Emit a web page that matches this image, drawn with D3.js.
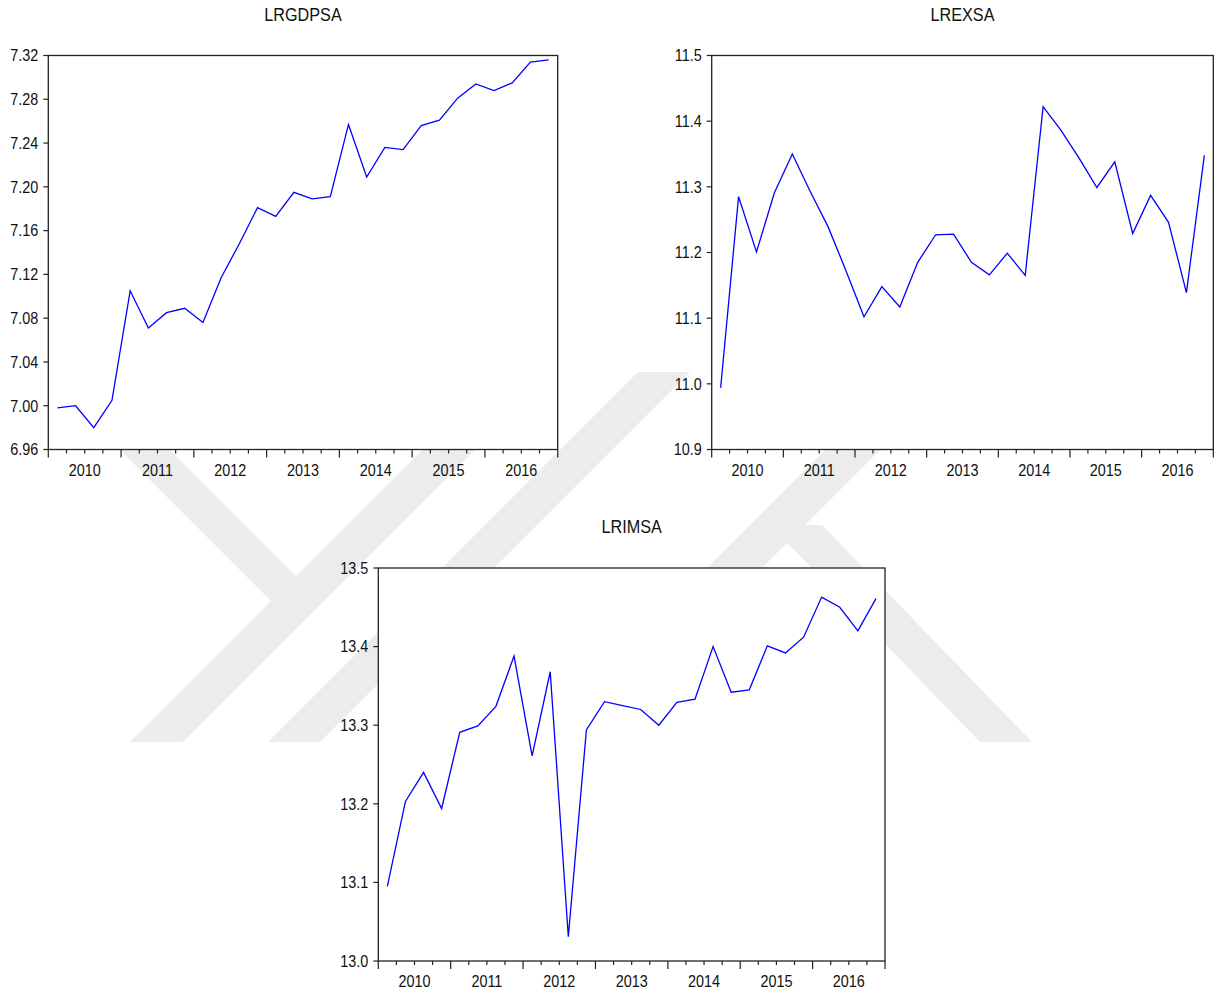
<!DOCTYPE html>
<html>
<head>
<meta charset="utf-8">
<script src="https://cdn.jsdelivr.net/npm/d3@7"></script>
<style>
html,body{margin:0;padding:0;background:#fff;}
svg{display:block;}
text{font-family:"Liberation Sans",Arial,sans-serif;fill:#111;}
</style>
</head>
<body>
<svg id="chart" width="1217" height="998"></svg>
<script>
// ---- data (quarterly, 2010Q1 .. 2016Q4) ----
const startYear = 2010;
const yearLabels = ["2010","2011","2012","2013","2014","2015","2016"];

const lrgdpsa = [6.998,7.000,6.980,7.005,7.105,7.071,7.085,7.089,7.076,7.117,7.148,7.181,
  7.173,7.195,7.189,7.191,7.257,7.209,7.236,7.234,7.256,7.261,7.281,7.294,7.288,7.295,7.314,7.316];
const lrexsa = [10.994,11.285,11.201,11.291,11.350,11.293,11.239,11.172,11.102,11.148,11.117,11.185,
  11.227,11.228,11.185,11.166,11.199,11.165,11.422,11.386,11.344,11.299,11.338,11.229,11.287,11.246,11.139,11.348];
const lrimsa = [13.095,13.203,13.240,13.194,13.291,13.299,13.324,13.388,13.261,13.368,13.031,13.294,
  13.330,13.325,13.320,13.300,13.329,13.333,13.400,13.342,13.345,13.401,13.392,13.412,13.463,13.450,13.420,13.461];

const titles = ["LRGDPSA","LREXSA","LRIMSA"];
const yDomains = [[6.96,7.32],[10.9,11.5],[13.0,13.5]];
const yTicks = [
  ["6.96","7.00","7.04","7.08","7.12","7.16","7.20","7.24","7.28","7.32"],
  ["10.9","11.0","11.1","11.2","11.3","11.4","11.5"],
  ["13.0","13.1","13.2","13.3","13.4","13.5"]
];
const seriesList = [lrgdpsa, lrexsa, lrimsa];

// ---- layout ----
const boxes = [
  {left:48.3, right:557.7, top:55.5, bottom:449.5},
  {left:711.7, right:1213.3, top:55.5, bottom:449.5},
  {left:378.3, right:885, top:568, bottom:961}
];

const svg = d3.select("#chart");

// ---- watermark (faint background emblem, 45-degree bands) ----
const wm = svg.append("g").attr("fill","#ececec");
// rising band: x + y between u0,u1, from yBottom up to yTop
function rising(u0, u1, yBot, yTop){
  return [[u0 - yBot, yBot],[u1 - yBot, yBot],[u1 - yTop, yTop],[u0 - yTop, yTop]];
}
const bands = [
  rising(872, 925, 742, 372),
  rising(1010, 1062, 742, 372),
  rising(1275, 1330, 742, 372),
  [[770,525],[822,525],[1032,742],[980,742]],
  [[50,380],[100,380],[322,602],[271,601]]
];
bands.forEach(p => wm.append("polygon").attr("points", p.map(d=>d.join(",")).join(" ")));

const condense = 0.9;
function txt(g, x, y, s, size, anchor){
  return g.append("text")
    .attr("transform", `translate(${x},${y}) scale(${condense},1)`)
    .attr("text-anchor", anchor)
    .attr("font-size", size)
    .text(s);
}

boxes.forEach((b, pi) => {
  const g = svg.append("g");
  const x = d3.scaleLinear().domain([startYear, startYear + yearLabels.length]).range([b.left, b.right]);
  const y = d3.scaleLinear().domain(yDomains[pi]).range([b.bottom, b.top]);

  g.append("rect").attr("x", b.left).attr("y", b.top)
    .attr("width", b.right - b.left).attr("height", b.bottom - b.top)
    .attr("fill", "#fff").attr("stroke", "#222").attr("stroke-width", 1.3);

  // title
  txt(g, (b.left + b.right) / 2, b.top - 35, titles[pi], 18, "middle");

  // y ticks
  yTicks[pi].forEach(t => {
    const yy = y(+t);
    g.append("line").attr("x1", b.left - 5).attr("x2", b.left).attr("y1", yy).attr("y2", yy)
      .attr("stroke", "#222").attr("stroke-width", 1.2);
    txt(g, b.left - 10, yy + 5.8, t, 16, "end");
  });

  // x ticks: quarter minor, year major
  const nq = yearLabels.length * 4;
  for (let k = 0; k <= nq; k++) {
    const xx = x(startYear + k / 4);
    const major = k % 4 === 0;
    g.append("line").attr("x1", xx).attr("x2", xx)
      .attr("y1", b.bottom).attr("y2", b.bottom + (major ? 8 : 4))
      .attr("stroke", "#222").attr("stroke-width", 1.2);
  }
  yearLabels.forEach((lab, i) => {
    txt(g, x(startYear + i + 0.5), b.bottom + 26, lab, 16, "middle");
  });

  // series line
  const data = seriesList[pi];
  const line = d3.line()
    .x((d, i) => x(startYear + (i + 0.5) / 4))
    .y(d => y(d));
  g.append("path").datum(data).attr("d", line)
    .attr("fill", "none").attr("stroke", "#0000ff").attr("stroke-width", 1.3);
});
</script>
</body>
</html>
